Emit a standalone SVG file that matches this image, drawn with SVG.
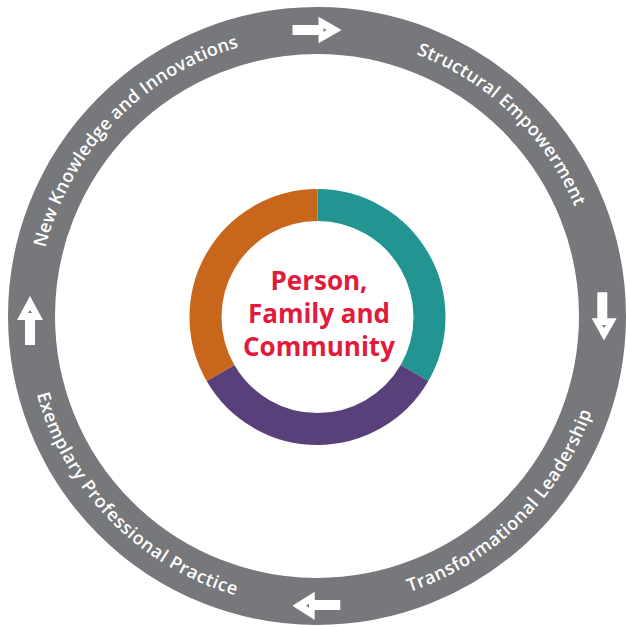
<svg xmlns="http://www.w3.org/2000/svg" width="626" height="627" viewBox="0 0 626 627">
<style>
.ring{fill:none;stroke:#77787b;stroke-width:47}
.seg{fill:none;stroke-width:32}
.lbl{font-family:"Open Sans","Liberation Sans",sans-serif;font-weight:600;font-size:18px;fill:#ffffff}
.ctr{font-family:"Open Sans","Liberation Sans",sans-serif;font-weight:700;font-size:26px;fill:#e21a3b;text-anchor:middle}
.arr{fill:#ffffff}
.dot{fill:#77787b}
</style>
<defs>
<path id="topArc" d="M 317,596 A 280 280 0 0 1 317,36 A 280 280 0 0 1 317,596"/>
<path id="botArc" d="M 317,25 A 291 291 0 0 0 317,607 A 291 291 0 0 0 317,25"/>
</defs>
<rect width="626" height="627" fill="#ffffff"/>
<g id="outer-ring">
<circle class="ring" cx="317" cy="316" r="285.5"/>
</g>
<g id="core">
<path class="seg" stroke="#229593" d="M 317.5,205 A 112 112 0 0 1 414.5,373"/>
<path class="seg" stroke="#5a407a" d="M 414.5,373 A 112 112 0 0 1 220.5,373"/>
<path class="seg" stroke="#c8661c" d="M 220.5,373 A 112 112 0 0 1 317.5,205"/>
<text class="ctr"><tspan x="319" y="290">Person,</tspan><tspan x="319" y="323">Family and</tspan><tspan x="319" y="356">Community</tspan></text>
</g>
<g id="node-new-knowledge">
<text class="lbl" text-anchor="middle"><textPath href="#topArc" startOffset="37.2%" textLength="292" lengthAdjust="spacing">New Knowledge and Innovations</textPath></text>
</g>
<g id="node-structural">
<text class="lbl" text-anchor="middle"><textPath href="#topArc" startOffset="62.2%" textLength="226" lengthAdjust="spacing">Structural Empowerment</textPath></text>
</g>
<g id="node-transformational">
<text class="lbl" text-anchor="middle"><textPath href="#botArc" startOffset="62.4%" textLength="265" lengthAdjust="spacing">Transformational Leadership</textPath></text>
</g>
<g id="node-exemplary">
<text class="lbl" text-anchor="middle"><textPath href="#botArc" startOffset="37.4%" textLength="295" lengthAdjust="spacing">Exemplary Professional Practice</textPath></text>
</g>
<g id="connectors">
<polygon class="arr" points="292.5,25 318.5,25 318.5,16.7 341.7,30 318.5,43.3 318.5,35 292.5,35"/>
<polygon class="dot" points="323.5,28 326.5,30 323.5,32"/>
<polygon class="arr" points="597.3,292.3 607.3,292.3 607.3,318.3 616.7,318.3 604,340.5 591.7,318.3 597.3,318.3"/>
<polygon class="dot" points="602,325 606,325 604,328"/>
<polygon class="arr" points="340.3,600 314.7,600 314.7,591.7 292.3,605.7 314.7,620 314.7,610 340.3,610"/>
<polygon class="dot" points="309,603.7 309,607.7 306,605.7"/>
<polygon class="arr" points="25,345 25,320 17,320 30,296 43,320 35,320 35,345"/>
<polygon class="dot" points="28,313 32,313 30,310"/>
</g>
</svg>
